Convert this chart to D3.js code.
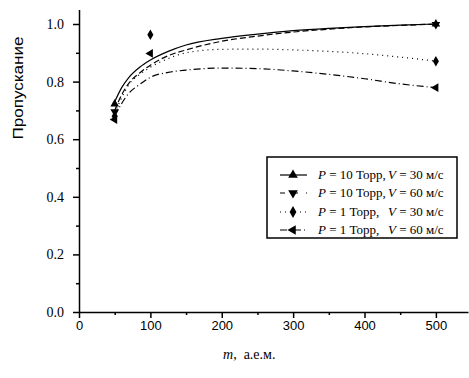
<!DOCTYPE html>
<html>
<head>
<meta charset="utf-8">
<script src="https://cdn.jsdelivr.net/npm/d3@7"></script>
<style>
  body { margin: 0; background: #fff; }
  .axis path, .axis line { stroke: #000; stroke-width: 1.5px; }
  .fit { fill: none; stroke: #000; stroke-width: 1.2px; }
</style>
</head>
<body>
<svg id="chart" width="469" height="378"></svg>
<script>
// fitted curves
const curveM = [50, 60, 70, 85, 100, 125, 150, 200, 250, 300, 350, 400, 450, 500];
const fit10v30 = [0.73, 0.78, 0.815, 0.85, 0.875, 0.905, 0.927, 0.95, 0.965, 0.977, 0.985, 0.991, 0.996, 1.0];
const fit10v60 = [0.70, 0.755, 0.795, 0.83, 0.857, 0.89, 0.91, 0.94, 0.958, 0.972, 0.982, 0.99, 0.995, 1.0];
const fit1v30 = [0.69, 0.745, 0.79, 0.825, 0.85, 0.88, 0.90, 0.912, 0.913, 0.91, 0.905, 0.897, 0.885, 0.871];
const fit1v60 = [0.68, 0.725, 0.76, 0.79, 0.815, 0.832, 0.84, 0.847, 0.845, 0.837, 0.825, 0.81, 0.792, 0.779];

// measured points
const pts10v30 = [[50, 0.722], [500, 1.0]];
const pts10v60 = [[50, 0.695], [500, 0.998]];
const pts1v30 = [[50, 0.68], [100, 0.963], [500, 0.871]];
const pts1v60 = [[50, 0.668], [100, 0.898], [500, 0.779]];

const xTicks = [0, 100, 200, 300, 400, 500];
const xMinor = [50, 150, 250, 350, 450];
const yTicks = [0, 0.2, 0.4, 0.6, 0.8, 1.0];
const yMinor = [0.1, 0.3, 0.5, 0.7, 0.9];

const seriesLabels = [
  {p: "10", v: "30"},
  {p: "10", v: "60"},
  {p: "1", v: "30"},
  {p: "1", v: "60"}
];

const SERIF = "'Liberation Serif', 'DejaVu Serif', 'Times New Roman', serif";
const SANS = "'Liberation Sans', Arial, sans-serif";

const svg = d3.select("#chart");
const xScale = d3.scaleLinear().domain([0, 545]).range([79, 468]);
const yScale = d3.scaleLinear().domain([0, 1.05]).range([312, 9.6]);

// axes
let xAxis = svg.append("g").attr("class", "axis").attr("transform", "translate(0,312)")
  .call(d3.axisBottom(xScale).tickValues(xTicks).tickSize(6).tickSizeOuter(0).tickPadding(3).tickFormat(d3.format("d")));
xAxis.attr("font-family", SANS).attr("font-size", 13);
svg.append("g").attr("class", "axis").attr("transform", "translate(0,312)")
  .call(d3.axisBottom(xScale).tickValues(xMinor).tickSize(3).tickSizeOuter(0).tickFormat(""))
  .select(".domain").remove();
let yAxis = svg.append("g").attr("class", "axis").attr("transform", "translate(79,0)")
  .call(d3.axisLeft(yScale).tickValues(yTicks).tickSize(6).tickSizeOuter(0).tickPadding(9).tickFormat(d3.format(".1f")));
yAxis.attr("font-family", SERIF).attr("font-size", 14);
svg.append("g").attr("class", "axis").attr("transform", "translate(79,0)")
  .call(d3.axisLeft(yScale).tickValues(yMinor).tickSize(3).tickSizeOuter(0).tickFormat(""))
  .select(".domain").remove();

// axis titles
svg.append("text").attr("transform", "translate(23,88) rotate(-90)")
  .attr("text-anchor", "middle")
  .attr("font-family", SANS).attr("font-size", 15)
  .attr("textLength", 103).attr("lengthAdjust", "spacingAndGlyphs")
  .text("Пропускание");
let xt = svg.append("text").attr("x", 223).attr("y", 359)
  .attr("font-family", SERIF).attr("font-size", 14);
xt.append("tspan").attr("font-style", "italic").text("m");
xt.append("tspan").text(",\u00a0\u00a0а.е.м.");

// curves
const line = d3.line().x((d, i) => xScale(curveM[i])).y(d => yScale(d)).curve(d3.curveMonotoneX);
const dashes = ["none", "6,3", "1,4", "7,3,1,3"];
const fits = [fit10v30, fit10v60, fit1v30, fit1v60];
fits.forEach((f, i) => {
  svg.append("path").attr("class", "fit").attr("d", line(f)).attr("stroke-dasharray", dashes[i]);
});

// markers
const markerDefs = [
  {type: d3.symbolTriangle, size: 32, rot: 0},
  {type: d3.symbolTriangle, size: 32, rot: 180},
  {type: d3.symbolDiamond, size: 32, rot: 0},
  {type: d3.symbolTriangle, size: 32, rot: -90}
];
const allPts = [pts10v30, pts10v60, pts1v30, pts1v60];
allPts.forEach((pts, i) => {
  let m = markerDefs[i];
  svg.selectAll(null).data(pts).join("path")
    .attr("d", d3.symbol().type(m.type).size(m.size))
    .attr("transform", d => "translate(" + xScale(d[0]) + "," + yScale(d[1]) + ") rotate(" + m.rot + ")")
    .attr("fill", "#000");
});

// legend
svg.append("rect").attr("x", 267).attr("y", 157).attr("width", 190).attr("height", 81)
  .attr("fill", "#fff").attr("stroke", "#000").attr("stroke-width", 1.5);
const rowY = [175, 193, 212, 230];
seriesLabels.forEach((s, i) => {
  let y = rowY[i];
  svg.append("line").attr("x1", 280).attr("x2", 307).attr("y1", y).attr("y2", y)
    .attr("class", "fit").attr("stroke-dasharray", i == 1 ? "5,8" : dashes[i]);
  let m = markerDefs[i];
  svg.append("path").attr("d", d3.symbol().type(m.type).size(40))
    .attr("transform", "translate(293," + y + ") rotate(" + m.rot + ")").attr("fill", "#000");
  let t = svg.append("text").attr("x", 318).attr("y", y + 4)
    .attr("font-family", SERIF).attr("font-size", 13);
  t.append("tspan").attr("font-style", "italic").text("P");
  t.append("tspan").text(" = " + s.p + " Торр,");
  let t2 = svg.append("text").attr("x", 388).attr("y", y + 4)
    .attr("font-family", SERIF).attr("font-size", 13);
  t2.append("tspan").attr("font-style", "italic").text("V");
  t2.append("tspan").text(" = " + s.v + " м/с");
});
</script>
</body>
</html>
